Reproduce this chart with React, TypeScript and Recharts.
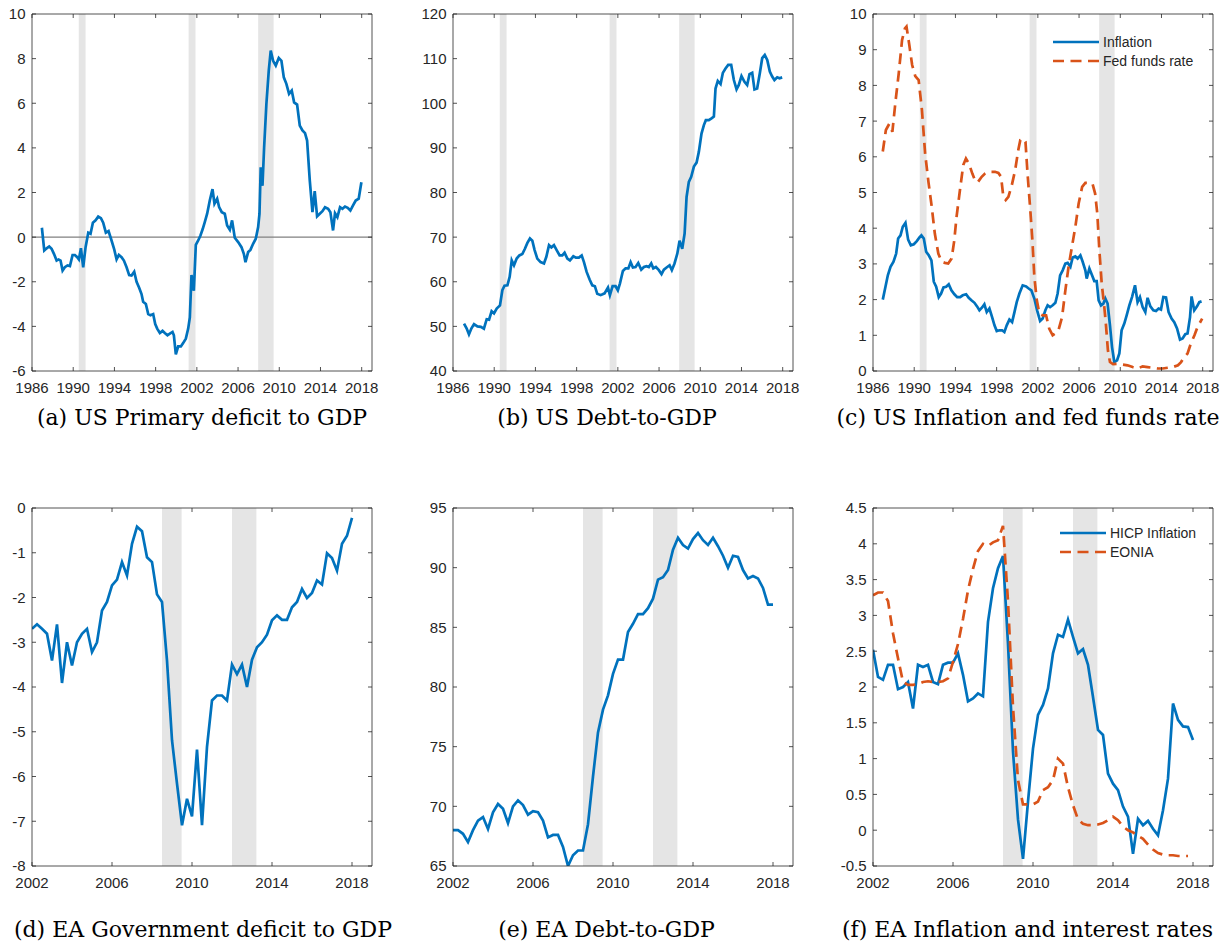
import React from 'react';
import { LineChart, Line, XAxis, YAxis, ReferenceArea, ReferenceLine, Legend } from 'recharts';

// ---------------- data ----------------
const TOP_X_TICKS = [1986, 1990, 1994, 1998, 2002, 2006, 2010, 2014, 2018];
const BOT_X_TICKS = [2002, 2006, 2010, 2014, 2018];
const US_RECESSIONS: [number, number][] = [[1990.54, 1991.2], [2001.2, 2001.87], [2007.95, 2009.45]];
const EA_RECESSIONS: [number, number][] = [[2008.5, 2009.48], [2012.0, 2013.22]];

const usDeficit: [number, number][] = [
  [1986.96,0.42],[1987.19,-0.6],[1987.42,-0.5],[1987.67,-0.42],[1987.9,-0.52],[1988.13,-0.75],[1988.39,-1.05],[1988.58,-1.0],[1988.77,-1.05],[1988.97,-1.5],[1989.19,-1.35],[1989.45,-1.27],[1989.68,-1.3],[1989.94,-0.8],[1990.16,-0.8],[1990.39,-0.9],[1990.55,-1.0],[1990.75,-0.5],[1990.97,-1.35],[1991.2,-0.45],[1991.46,0.2],[1991.68,0.15],[1991.91,0.65],[1992.17,0.75],[1992.43,0.92],[1992.69,0.85],[1992.91,0.65],[1993.17,0.2],[1993.43,0.27],[1993.72,-0.15],[1993.98,-0.55],[1994.21,-1.0],[1994.43,-0.8],[1994.69,-0.9],[1994.92,-1.05],[1995.18,-1.35],[1995.43,-1.7],[1995.66,-1.72],[1995.92,-1.55],[1996.15,-2.0],[1996.4,-2.27],[1996.63,-2.55],[1996.79,-2.9],[1997.05,-3.0],[1997.28,-3.45],[1997.5,-3.5],[1997.76,-3.45],[1997.96,-3.9],[1998.15,-4.1],[1998.41,-4.3],[1998.67,-4.2],[1998.89,-4.3],[1999.15,-4.4],[1999.38,-4.33],[1999.64,-4.25],[1999.77,-4.4],[1999.96,-5.25],[2000.19,-4.9],[2000.45,-4.9],[2000.67,-4.75],[2000.93,-4.55],[2001.16,-4.1],[2001.32,-3.6],[2001.48,-1.7],[2001.71,-2.4],[2001.9,-0.35],[2002.13,-0.15],[2002.35,0.07],[2002.56,0.35],[2002.77,0.67],[2003.0,1.05],[2003.26,1.65],[2003.52,2.15],[2003.71,1.5],[2003.97,1.72],[2004.16,1.35],[2004.42,1.12],[2004.71,1.05],[2004.94,0.52],[2005.2,0.33],[2005.42,0.75],[2005.68,-0.03],[2006.01,-0.22],[2006.33,-0.45],[2006.56,-0.75],[2006.72,-1.12],[2006.98,-0.67],[2007.2,-0.57],[2007.46,-0.3],[2007.72,-0.07],[2007.95,0.45],[2008.08,1.05],[2008.2,3.13],[2008.37,2.3],[2008.53,4.03],[2008.75,5.97],[2008.98,7.46],[2009.17,8.36],[2009.4,7.9],[2009.66,7.69],[2009.95,8.03],[2010.21,7.9],[2010.44,7.16],[2010.69,6.87],[2010.95,6.42],[2011.21,6.57],[2011.44,6.04],[2011.73,5.94],[2011.99,5.0],[2012.25,4.78],[2012.5,4.66],[2012.7,4.33],[2012.96,2.54],[2013.22,1.12],[2013.44,2.06],[2013.67,0.93],[2013.93,1.05],[2014.19,1.16],[2014.44,1.34],[2014.74,1.27],[2014.96,1.12],[2015.22,0.3],[2015.41,1.07],[2015.64,0.9],[2015.9,1.34],[2016.13,1.27],[2016.38,1.37],[2016.64,1.31],[2016.9,1.19],[2017.16,1.42],[2017.42,1.64],[2017.71,1.72],[2017.97,2.46],
];

const usDebt: [number, number][] = [
  [1987.07,50.6],[1987.33,49.5],[1987.55,48.2],[1987.78,49.5],[1988.04,50.5],[1988.37,50.0],[1988.7,49.9],[1989.0,49.5],[1989.27,51.6],[1989.5,51.5],[1989.75,53.4],[1989.98,52.9],[1990.24,54.0],[1990.56,54.7],[1990.79,58.1],[1991.0,59.1],[1991.28,59.2],[1991.5,61.1],[1991.7,64.8],[1991.92,63.7],[1992.18,65.2],[1992.44,65.9],[1992.73,66.2],[1992.98,67.4],[1993.22,68.7],[1993.47,69.7],[1993.7,69.2],[1993.92,67.1],[1994.18,65.2],[1994.5,64.4],[1994.83,64.1],[1995.06,65.6],[1995.32,68.2],[1995.55,67.7],[1995.8,68.2],[1996.06,67.1],[1996.35,65.9],[1996.61,65.9],[1996.83,66.5],[1997.1,65.2],[1997.35,64.8],[1997.68,65.7],[1997.93,65.4],[1998.22,65.4],[1998.49,65.9],[1998.71,64.4],[1998.97,62.2],[1999.26,60.5],[1999.52,59.2],[1999.77,59.0],[2000.0,57.3],[2000.33,57.0],[2000.71,57.4],[2001.04,58.7],[2001.23,57.0],[2001.49,59.0],[2001.78,59.0],[2002.0,58.1],[2002.2,59.6],[2002.49,62.4],[2002.75,63.0],[2003.02,63.0],[2003.24,64.4],[2003.46,63.2],[2003.72,63.3],[2003.98,64.2],[2004.27,62.7],[2004.53,63.3],[2004.79,63.5],[2005.01,63.3],[2005.24,64.1],[2005.44,63.0],[2005.69,63.3],[2005.98,62.6],[2006.24,61.7],[2006.47,62.7],[2006.73,63.2],[2007.02,63.7],[2007.24,62.6],[2007.5,64.1],[2007.77,66.3],[2007.99,69.2],[2008.25,67.4],[2008.48,70.8],[2008.67,79.0],[2008.89,82.4],[2009.12,83.5],[2009.38,85.8],[2009.64,86.7],[2009.86,89.1],[2010.12,93.2],[2010.35,95.1],[2010.54,96.2],[2010.83,96.2],[2011.09,96.6],[2011.32,97.0],[2011.48,103.3],[2011.7,105.0],[2011.97,104.3],[2012.19,106.8],[2012.45,107.8],[2012.71,108.6],[2013.0,108.6],[2013.26,105.2],[2013.52,103.1],[2013.74,104.1],[2014.0,106.1],[2014.29,104.8],[2014.55,104.1],[2014.78,106.5],[2015.04,106.8],[2015.26,103.1],[2015.52,103.3],[2015.78,106.7],[2016.01,110.1],[2016.26,110.8],[2016.5,109.7],[2016.75,107.1],[2016.98,106.0],[2017.2,105.2],[2017.47,105.8],[2017.69,105.6],[2017.95,105.8],
];

const usInflation: [number, number][] = [
  [1986.95,2.0],[1987.21,2.36],[1987.44,2.68],[1987.7,2.92],[1987.99,3.06],[1988.25,3.29],[1988.44,3.71],[1988.67,3.8],[1988.89,4.04],[1989.15,4.15],[1989.41,3.68],[1989.67,3.52],[1989.96,3.55],[1990.25,3.64],[1990.51,3.74],[1990.7,3.8],[1990.93,3.71],[1991.16,3.34],[1991.41,3.24],[1991.67,3.1],[1991.9,2.5],[1992.13,2.36],[1992.38,2.07],[1992.61,2.17],[1992.84,2.34],[1993.1,2.36],[1993.35,2.43],[1993.61,2.26],[1993.9,2.15],[1994.17,2.07],[1994.46,2.07],[1994.71,2.12],[1995.04,2.15],[1995.29,2.05],[1995.55,1.98],[1995.85,1.91],[1996.1,1.81],[1996.33,1.7],[1996.59,1.78],[1996.81,1.87],[1997.04,1.65],[1997.3,1.75],[1997.56,1.51],[1997.79,1.28],[1998.01,1.12],[1998.27,1.14],[1998.53,1.14],[1998.75,1.09],[1998.98,1.28],[1999.24,1.44],[1999.5,1.37],[1999.73,1.65],[1999.95,1.93],[2000.21,2.17],[2000.53,2.4],[2000.86,2.37],[2001.11,2.31],[2001.37,2.26],[2001.66,2.03],[2001.93,1.7],[2002.22,1.4],[2002.47,1.47],[2002.73,1.7],[2002.95,1.84],[2003.19,1.79],[2003.44,1.84],[2003.7,1.91],[2003.92,2.17],[2004.16,2.68],[2004.41,2.82],[2004.67,3.01],[2004.89,3.03],[2005.16,2.92],[2005.38,3.18],[2005.64,3.21],[2005.86,3.15],[2006.13,3.24],[2006.35,3.06],[2006.61,2.82],[2006.74,2.59],[2007.0,2.87],[2007.26,2.68],[2007.48,2.52],[2007.71,2.52],[2007.9,1.98],[2008.13,1.84],[2008.36,1.89],[2008.55,2.03],[2008.77,1.89],[2009.0,1.28],[2009.2,0.67],[2009.42,0.25],[2009.69,0.3],[2009.91,0.49],[2010.13,1.14],[2010.39,1.33],[2010.62,1.56],[2010.88,1.84],[2011.14,2.07],[2011.43,2.4],[2011.68,1.93],[2011.91,2.07],[2012.17,1.79],[2012.43,1.65],[2012.65,2.05],[2012.92,1.81],[2013.21,1.7],[2013.47,1.68],[2013.72,1.75],[2013.95,1.72],[2014.18,2.07],[2014.44,2.06],[2014.69,1.65],[2014.98,1.47],[2015.24,1.37],[2015.51,1.19],[2015.8,0.88],[2016.05,0.91],[2016.31,1.03],[2016.53,1.05],[2016.77,1.51],[2016.92,2.09],[2017.18,1.7],[2017.45,1.81],[2017.67,1.93],[2017.89,1.95],
];

const usFedFunds: [number, number][] = [
  [1986.95,6.15],[1987.25,6.75],[1987.57,6.92],[1987.88,6.7],[1988.2,7.59],[1988.5,8.34],[1988.82,9.27],[1989.1,9.6],[1989.25,9.65],[1989.5,9.18],[1989.8,8.57],[1990.1,8.26],[1990.43,8.15],[1990.75,7.31],[1991.06,6.09],[1991.38,5.3],[1991.7,4.6],[1992.0,3.85],[1992.34,3.29],[1992.66,3.06],[1992.98,3.03],[1993.3,3.01],[1993.63,3.15],[1993.89,3.66],[1994.11,4.32],[1994.44,5.07],[1994.76,5.77],[1995.02,5.95],[1995.31,5.81],[1995.64,5.53],[1995.96,5.3],[1996.2,5.3],[1996.55,5.44],[1996.87,5.53],[1997.2,5.58],[1997.5,5.58],[1997.84,5.58],[1998.17,5.55],[1998.43,5.44],[1998.65,4.88],[1998.88,4.79],[1999.14,4.88],[1999.47,5.2],[1999.8,5.63],[2000.1,6.19],[2000.3,6.47],[2000.6,6.51],[2000.8,6.42],[2001.0,5.53],[2001.27,4.5],[2001.47,3.66],[2001.66,2.64],[2001.9,1.98],[2002.15,1.61],[2002.47,1.56],[2002.8,1.56],[2003.1,1.19],[2003.44,1.0],[2003.7,1.05],[2004.0,1.14],[2004.35,1.51],[2004.67,2.26],[2005.0,2.96],[2005.31,3.48],[2005.64,4.04],[2005.96,4.69],[2006.3,5.16],[2006.61,5.27],[2007.0,5.27],[2007.3,5.25],[2007.56,4.97],[2007.77,4.41],[2007.97,3.38],[2008.2,2.45],[2008.45,1.79],[2008.6,1.33],[2008.8,0.58],[2009.0,0.25],[2009.3,0.19],[2009.75,0.2],[2010.2,0.18],[2010.7,0.16],[2011.2,0.11],[2011.7,0.07],[2012.17,0.13],[2012.65,0.11],[2013.14,0.09],[2013.63,0.07],[2014.12,0.07],[2014.6,0.09],[2015.1,0.11],[2015.6,0.16],[2015.9,0.25],[2016.2,0.39],[2016.53,0.49],[2016.85,0.77],[2017.2,1.0],[2017.5,1.23],[2017.95,1.47],
];

// Euro area, quarterly from 2002Q1
const EA_START = 2002;
const eaDeficit = [-2.7,-2.6,-2.7,-2.81,-3.41,-2.6,-3.91,-3.0,-3.52,-3.0,-2.81,-2.7,-3.22,-3.0,-2.29,-2.1,-1.73,-1.6,-1.21,-1.51,-0.8,-0.42,-0.52,-1.1,-1.21,-1.93,-2.1,-3.41,-5.19,-6.16,-7.09,-6.5,-6.89,-5.4,-7.09,-5.34,-4.3,-4.19,-4.19,-4.3,-3.5,-3.71,-3.5,-4.0,-3.39,-3.11,-3.0,-2.83,-2.51,-2.4,-2.5,-2.5,-2.22,-2.1,-1.81,-2.01,-1.9,-1.62,-1.71,-1.01,-1.12,-1.4,-0.8,-0.62,-0.22];
const eaDebt = [68.0,68.0,67.7,67.0,68.0,68.8,69.1,68.1,69.5,70.2,69.8,68.6,70.0,70.5,70.1,69.3,69.6,69.5,68.8,67.4,67.6,67.6,66.6,65.0,65.9,66.3,66.3,68.5,72.5,76.2,78.1,79.3,81.1,82.3,82.3,84.6,85.3,86.1,86.1,86.6,87.4,89.0,89.2,89.8,91.5,92.5,91.9,91.6,92.4,92.9,92.3,91.9,92.5,91.8,91.0,90.0,91.0,90.9,89.8,89.1,89.3,89.1,88.3,86.9,86.9];
const eaHicp = [2.52,2.14,2.1,2.31,2.31,1.97,2.0,2.07,1.7,2.31,2.28,2.31,2.07,2.04,2.31,2.34,2.34,2.47,2.17,1.8,1.84,1.91,1.87,2.91,3.38,3.66,3.83,2.6,1.1,0.15,-0.4,0.4,1.14,1.61,1.75,1.98,2.47,2.73,2.7,2.94,2.7,2.47,2.53,2.31,1.86,1.4,1.33,0.79,0.65,0.56,0.33,0.19,-0.33,0.16,0.07,0.13,0.02,-0.07,0.28,0.72,1.77,1.54,1.45,1.44,1.26];
const eaEonia = [3.28,3.32,3.32,3.2,2.75,2.4,2.07,2.03,2.03,2.04,2.07,2.08,2.07,2.07,2.08,2.12,2.35,2.6,2.95,3.35,3.65,3.9,4.0,3.97,4.02,4.05,4.25,3.2,1.72,0.7,0.36,0.36,0.36,0.4,0.56,0.6,0.7,1.0,0.93,0.6,0.35,0.15,0.09,0.07,0.07,0.08,0.1,0.14,0.19,0.14,0.05,0.0,-0.03,-0.08,-0.12,-0.2,-0.27,-0.32,-0.34,-0.35,-0.35,-0.36,-0.36,-0.36];

const Y_A = [-6, -4, -2, 0, 2, 4, 6, 8, 10];
const Y_B = [40, 50, 60, 70, 80, 90, 100, 110, 120];
const Y_C = [0, 1, 2, 3, 4, 5, 6, 7, 8, 9, 10];
const Y_D = [-8, -7, -6, -5, -4, -3, -2, -1, 0];
const Y_E = [65, 70, 75, 80, 85, 90, 95];
const Y_F = [-0.5, 0, 0.5, 1, 1.5, 2, 2.5, 3, 3.5, 4, 4.5];

// ---------------- helpers ----------------
type Pt = { t: number; v: number };
const fromPairs = (a: [number, number][]): Pt[] => a.map(([t, v]) => ({ t, v }));
const fromQuarterly = (start: number, a: number[]): Pt[] => a.map((v, i) => ({ t: start + i / 4, v }));

const BLUE = '#0072BD';
const ORANGE = '#D95319';
const AXIS = '#262626';
const SHADE = '#E5E5E5';
const FONT = "'Liberation Sans', Arial, Helvetica, sans-serif";
const TICK_FS = 15;
const TL = 4; // inner tick length
const MY = 6.5; // y label gap
const MX = 11; // x label gap
const AW = 0.8;
const LW = 2.7;
const DASH = '11 6.5';

const LeftTick = (p: any) => {
  const ax = p.x + MY;
  return (
    <g>
      <line x1={ax} x2={ax + TL} y1={p.y} y2={p.y} stroke={AXIS} strokeWidth={AW} />
      <text x={p.x} y={p.y} dy="0.36em" textAnchor="end" fontSize={TICK_FS} fontFamily={FONT} fill={AXIS}>{String(p.payload.value)}</text>
    </g>
  );
};
const RightTick = (p: any) => {
  const ax = p.x - MY;
  return <line x1={ax} x2={ax - TL} y1={p.y} y2={p.y} stroke={AXIS} strokeWidth={AW} />;
};
const BottomTick = (p: any) => {
  const ay = p.y - MX;
  return (
    <g>
      <line x1={p.x} x2={p.x} y1={ay} y2={ay - TL} stroke={AXIS} strokeWidth={AW} />
      <text x={p.x} y={p.y} dy="0.72em" textAnchor="middle" fontSize={TICK_FS} fontFamily={FONT} fill={AXIS}>{String(p.payload.value)}</text>
    </g>
  );
};
const TopTick = (p: any) => {
  const ay = p.y + MX;
  return <line x1={p.x} x2={p.x} y1={ay} y2={ay + TL} stroke={AXIS} strokeWidth={AW} />;
};

type Series = { name: string; data: Pt[]; color: string; dashed?: boolean };
type LegendSpec = { x: number; y: number };

const ML = 40, MT = 10, MR = 10, MB = 30;

function Panel(props: {
  left: number; top: number; w: number; h: number;
  xDomain: [number, number]; xTicks: number[];
  yDomain: [number, number]; yTicks: number[];
  series: Series[]; shades: [number, number][]; zero?: boolean; legend?: LegendSpec;
}) {
  const { left, top, w, h, xDomain, xTicks, yDomain, yTicks, series, shades, zero, legend } = props;
  const W = ML + w + MR;
  const H = MT + h + MB;
  const renderLegend = () => (
    <svg width={170} height={46} style={{ overflow: 'visible', display: 'block' }}>
      {series.map((s, i) => (
        <g key={s.name}>
          <line x1={0} x2={46} y1={9 + i * 19} y2={9 + i * 19} stroke={s.color} strokeWidth={LW} strokeDasharray={s.dashed ? DASH : undefined} />
          <text x={50} y={9 + i * 19} dy="0.36em" fontSize={14} fontFamily={FONT} fill={AXIS}>{s.name}</text>
        </g>
      ))}
    </svg>
  );
  return (
    <div style={{ position: 'absolute', left: left - ML, top: top - MT, width: W, height: H }}>
      <LineChart width={W} height={H} margin={{ left: ML - 1, top: MT - 1, right: MR - 1, bottom: MB - 1 }}>
        <XAxis xAxisId="b" dataKey="t" type="number" domain={xDomain} ticks={xTicks} interval={0} allowDataOverflow
          height={1} tickSize={0} tickMargin={MX} tick={BottomTick} axisLine={{ stroke: AXIS, strokeWidth: AW }} />
        <XAxis xAxisId="t" orientation="top" dataKey="t" type="number" domain={xDomain} ticks={xTicks} interval={0} allowDataOverflow
          height={1} tickSize={0} tickMargin={MX} tick={TopTick} axisLine={{ stroke: AXIS, strokeWidth: AW }} />
        <YAxis yAxisId="l" type="number" domain={yDomain} ticks={yTicks} interval={0} allowDataOverflow
          width={1} tickSize={0} tickMargin={MY} tick={LeftTick} axisLine={{ stroke: AXIS, strokeWidth: AW }} />
        <YAxis yAxisId="r" orientation="right" type="number" domain={yDomain} ticks={yTicks} interval={0} allowDataOverflow
          width={1} tickSize={0} tickMargin={MY} tick={RightTick} axisLine={{ stroke: AXIS, strokeWidth: AW }} />
        {shades.map(([a, b], i) => (
          <ReferenceArea key={i} xAxisId="b" yAxisId="l" x1={a} x2={b} y1={yDomain[0]} y2={yDomain[1]} fill={SHADE} fillOpacity={1} stroke="none" />
        ))}
        {zero && <ReferenceLine xAxisId="b" yAxisId="l" y={0} stroke="#808080" strokeWidth={1.3} />}
        {series.map((s) => (
          <Line key={s.name} xAxisId="b" yAxisId="l" data={s.data} dataKey="v" name={s.name} type="linear"
            stroke={s.color} strokeWidth={LW} strokeDasharray={s.dashed ? DASH : undefined}
            dot={false} activeDot={false} isAnimationActive={false} />
        ))}
        {legend && (
          <Legend layout="vertical" align="center" verticalAlign="middle" content={renderLegend}
            wrapperStyle={{ position: 'absolute', left: ML + legend.x, top: MT + legend.y - 9, width: 170, height: 46 }} />
        )}
      </LineChart>
    </div>
  );
}

const captionStyle = (cx: number, cy: number): React.CSSProperties => ({
  position: 'absolute', left: cx - 250, top: cy - 15, width: 500, height: 30, textAlign: 'center',
  fontFamily: "'DejaVu Serif', serif", fontSize: 22, lineHeight: '30px', color: '#000', whiteSpace: 'nowrap',
});

export default function App() {
  const TOP_DOM: [number, number] = [1986, 2019];
  const BOT_DOM: [number, number] = [2002, 2019];
  return (
    <div style={{ position: 'absolute', left: 0, top: 0, width: 1229, height: 945, background: '#fff', overflow: 'hidden' }}>
      <Panel left={32} top={14} w={340} h={357} xDomain={TOP_DOM} xTicks={TOP_X_TICKS} yDomain={[-6, 10]} yTicks={Y_A}
        series={[{ name: 'Primary deficit', data: fromPairs(usDeficit), color: BLUE }]} shades={US_RECESSIONS} zero />
      <Panel left={452.6} top={14} w={340} h={357} xDomain={TOP_DOM} xTicks={TOP_X_TICKS} yDomain={[40, 120]} yTicks={Y_B}
        series={[{ name: 'Debt-to-GDP', data: fromPairs(usDebt), color: BLUE }]} shades={US_RECESSIONS} />
      <Panel left={873.3} top={14} w={340} h={357} xDomain={TOP_DOM} xTicks={TOP_X_TICKS} yDomain={[0, 10]} yTicks={Y_C}
        series={[{ name: 'Inflation', data: fromPairs(usInflation), color: BLUE }, { name: 'Fed funds rate', data: fromPairs(usFedFunds), color: ORANGE, dashed: true }]}
        shades={US_RECESSIONS} legend={{ x: 180, y: 28 }} />
      <Panel left={32} top={507.5} w={340} h={358} xDomain={BOT_DOM} xTicks={BOT_X_TICKS} yDomain={[-8, 0]} yTicks={Y_D}
        series={[{ name: 'Government deficit', data: fromQuarterly(EA_START, eaDeficit), color: BLUE }]} shades={EA_RECESSIONS} />
      <Panel left={452.7} top={507.5} w={340} h={358} xDomain={BOT_DOM} xTicks={BOT_X_TICKS} yDomain={[65, 95]} yTicks={Y_E}
        series={[{ name: 'Debt-to-GDP', data: fromQuarterly(EA_START, eaDebt), color: BLUE }]} shades={EA_RECESSIONS} />
      <Panel left={873.3} top={507.5} w={340} h={358} xDomain={BOT_DOM} xTicks={BOT_X_TICKS} yDomain={[-0.5, 4.5]} yTicks={Y_F}
        series={[{ name: 'HICP Inflation', data: fromQuarterly(EA_START, eaHicp), color: BLUE }, { name: 'EONIA', data: fromQuarterly(EA_START, eaEonia), color: ORANGE, dashed: true }]}
        shades={EA_RECESSIONS} legend={{ x: 187, y: 25 }} />

      <div style={captionStyle(202, 418)}>(a) US Primary deficit to GDP</div>
      <div style={captionStyle(607, 418)}>(b) US Debt-to-GDP</div>
      <div style={captionStyle(1028, 418)}>(c) US Inflation and fed funds rate</div>
      <div style={captionStyle(203, 930)}>(d) EA Government deficit to GDP</div>
      <div style={captionStyle(606.5, 930)}>(e) EA Debt-to-GDP</div>
      <div style={captionStyle(1027.5, 930)}>(f) EA Inflation and interest rates</div>
    </div>
  );
}
